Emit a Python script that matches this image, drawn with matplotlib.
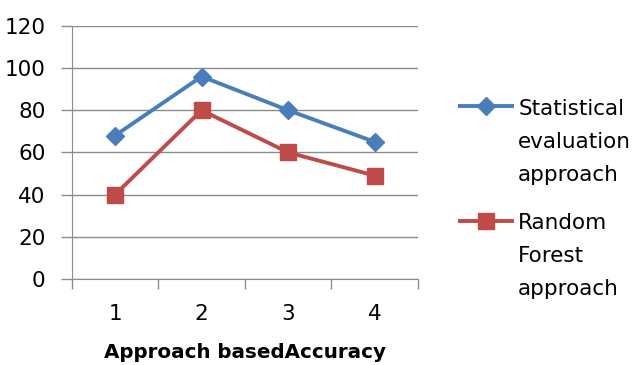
import matplotlib.pyplot as plt
import numpy as np

categories = ['1', '2', '3', '4']
statistical = [68, 96, 80, 65]
random_forest = [40, 80, 60, 49]
labels = ['Statistical\nevaluation\napproach', 'Random\nForest\napproach']

grey = '#8c8c8c'
fig = plt.figure(figsize=(6.36, 3.65), dpi=100)
ax = fig.add_axes([0.113, 0.236, 0.544, 0.693])

x = np.arange(1, len(categories) + 1)
ax.plot(x, statistical, color='#4a7ebb', lw=2.8, marker='D', ms=9, label=labels[0])
ax.plot(x, random_forest, color='#be4b48', lw=2.8, marker='s', ms=11, label=labels[1])

ax.set_xlim(0.5, len(categories) + 0.5)
ax.set_ylim(0, 120)
ax.set_yticks(range(0, 121, 20))
ax.grid(axis='y', color=grey, lw=1)
ax.set_axisbelow(True)

# category boundaries get tick marks, labels sit in the middle
ax.set_xticks(np.arange(0.5, len(categories) + 1, 1))
ax.set_xticklabels([])
ax.set_xticks(x, minor=True)
ax.set_xticklabels(categories, minor=True)
ax.tick_params(axis='x', which='major', length=7, color=grey, width=1)
ax.tick_params(axis='x', which='minor', length=0, pad=18, labelsize=15.5)
ax.tick_params(axis='y', length=8, color=grey, width=1, pad=11, labelsize=15.5)

for s in ['top', 'right']:
    ax.spines[s].set_visible(False)
for s in ['left', 'bottom']:
    ax.spines[s].set_color(grey)

ax.set_xlabel('Approach basedAccuracy', fontsize=14.3, fontweight='bold', labelpad=14)

leg = ax.legend(loc='upper left', bbox_to_anchor=(1.066, 0.788), frameon=False,
                fontsize=15.5, handlelength=2.4, handletextpad=0.3, labelspacing=1.3)
for t in leg.get_texts():
    t.set_linespacing(1.82)
# put the legend symbol next to the first line of each label
for col in leg._legend_handle_box.get_children():
    for row in col.get_children():
        row.align = 'top'

fig.savefig('out.png', dpi=100)
